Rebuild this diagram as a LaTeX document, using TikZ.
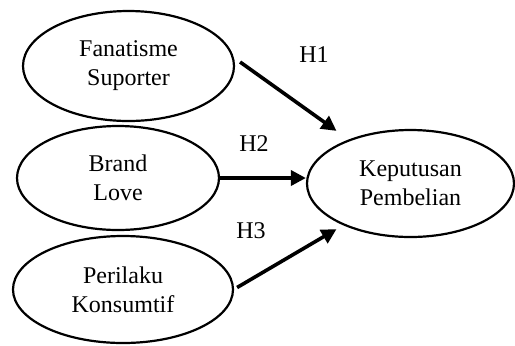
\documentclass[tikz,border=0pt]{standalone}
\usepackage{fontspec}
\setmainfont{Liberation Serif}
\usetikzlibrary{shapes,calc,arrows.meta,positioning}

\begin{document}
\begin{tikzpicture}[x=0.5pt,y=-0.5pt,
    var/.style={ellipse,draw=black,line width=1.1pt,inner sep=0pt,align=center,
      font=\fontsize{12}{14.5}\selectfont},
    hyp/.style={-{Triangle[length=7.5pt,width=7.5pt]},line width=1.8pt},
    hlabel/.style={font=\fontsize{12}{14.5}\selectfont}]
  \useasboundingbox (0,0) rectangle (515,345);
  % variables
  \node[var,minimum width=105.5pt,minimum height=55pt] (fs) at (128.5,66) {Fanatisme\\Suporter};
  \node[var,minimum width=101pt,minimum height=52pt] (bl) at (118,178) {Brand\\Love};
  \node[var,minimum width=110pt,minimum height=53.5pt] (pk) at (123,289.5) {Perilaku\\Konsumtif};
  \node[var,minimum width=103.5pt,minimum height=53.5pt] (kp) at (410.5,183.5) {Keputusan\\Pembelian};
  % hypotheses
  \draw[hyp] ($(fs.east)+(5,-4)$) -- ($(kp.north west)+(0,-14)$);
  \draw[hyp] (bl.east) -- (bl.east -| kp.west);
  \draw[hyp] ($(pk.east)+(3,-2)$) -- ($(kp.south west)+(0,7)$);
  \node[hlabel] (h1) at (314,54.5) {H1};
  \node[hlabel] (h2) at (254,144) {H2};
  \node[hlabel] (h3) at (251,230.5) {H3};
\end{tikzpicture}
\end{document}
